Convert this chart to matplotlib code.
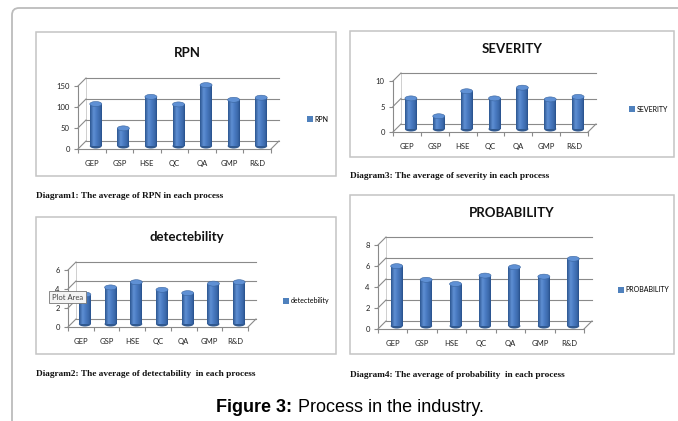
import matplotlib
matplotlib.use('Agg')
import matplotlib.pyplot as plt
from matplotlib.patches import Rectangle, Ellipse, FancyBboxPatch, Patch
from matplotlib.colors import LinearSegmentedColormap
from matplotlib.transforms import IdentityTransform
import numpy as np

W, H, DPI = 678, 421, 100

categories = ['GEP', 'GSP', 'HSE', 'QC', 'QA', 'GMP', 'R&D']
rpn = [100, 42, 117, 99, 145, 110, 115]
severity = [6.0, 2.5, 7.4, 6.0, 8.1, 5.8, 6.3]
detectability = [3.1, 3.85, 4.4, 3.6, 3.25, 4.25, 4.4]
probability = [5.7, 4.4, 4.0, 4.8, 5.6, 4.7, 6.4]

rpn_ticks = [0, 50, 100, 150]
severity_ticks = [0, 5, 10]
detect_ticks = [0, 2, 4, 6]
prob_ticks = [0, 2, 4, 6, 8]

GRID = '#8a8a8a'
BORDER = '#c4c4c4'
BLUE = '#4f81bd'

fig = plt.figure(figsize=(W / DPI, H / DPI), dpi=DPI)
fig.patch.set_facecolor('white')


def fx(x):
    return x / W


def fy(y):
    return 1 - y / H


cyl = LinearSegmentedColormap.from_list(
    'cyl', [(0, '#2c5690'), (0.3, '#5f8fd3'), (0.55, '#4a7bc2'), (0.85, '#3a67a8'), (1, '#27508a')])


def panel(box, title, title_xy, axbox, vals, ticks, series, legend_xy,
          caption, caption_xy, title_family='Lato'):
    x0, y0, x1, y1 = box
    fig.add_artist(Rectangle((fx(x0), fy(y1)), (x1 - x0) / W, (y1 - y0) / H,
                             transform=fig.transFigure, fill=False, ec=BORDER, lw=1.1))
    fig.text(fx(title_xy[0]), fy(title_xy[1]), title, ha='center', va='center',
             fontsize=9.5, fontweight='bold', family=title_family, color='#111111')
    ax0, ay0, ax1, ay1 = axbox
    axw, axh = ax1 - ax0, ay1 - ay0
    ax = fig.add_axes([fx(ax0), fy(ay1), axw / W, axh / H])
    ax.set_facecolor('none')
    n = len(vals)
    ymax = ticks[-1]
    ax.set_xlim(-0.5, n - 0.5)
    ax.set_ylim(0, ymax)
    pxx = n / axw          # data per px (x)
    pxy = ymax / axh       # data per px (y)
    ddx, ddy = 8 * pxx, 8 * pxy
    # back wall gridlines + left diagonals
    for g in ticks:
        ax.plot([-0.5 + ddx, n - 0.5 + ddx], [g + ddy, g + ddy], color=GRID,
                lw=0.8, clip_on=False, zorder=1)
        ax.plot([-0.5, -0.5 + ddx], [g, g + ddy], color=GRID, lw=0.8,
                clip_on=False, zorder=1)
    ax.plot([-0.5 + ddx, -0.5 + ddx], [ddy, ymax + ddy], color='#c8c8c8',
            lw=0.6, clip_on=False, zorder=0.9)
    ax.plot([n - 0.5, n - 0.5 + ddx], [0, ddy], color=GRID, lw=0.8,
            clip_on=False, zorder=1)
    # cylinders
    bx, by = 4 * pxx, 3 * pxy
    bw = 12 * pxx
    eh = 5 * pxy
    xs = np.arange(n) + bx
    bars = ax.bar(xs, vals, width=bw, bottom=by, color='#4576ba', zorder=3,
                  clip_on=False, lw=0)
    grad = np.linspace(0, 1, 64)[None, :]
    for b, xi, v in zip(bars, xs, vals):
        ax.add_patch(Ellipse((xi, by), bw, eh, fc='#31598f', ec='none',
                             zorder=2.9, clip_on=False))
        im = ax.imshow(grad, extent=[xi - bw / 2, xi + bw / 2, by, by + v],
                       aspect='auto', cmap=cyl, zorder=3.1, interpolation='bilinear')
        im.set_clip_path(b)
        ax.add_patch(Ellipse((xi, by + v), bw, eh, fc='#5f90d4', ec='#3a659f',
                             lw=0.4, zorder=4, clip_on=False))
    ax.set_xlim(-0.5, n - 0.5)
    ax.set_ylim(0, ymax)
    for s in ['top', 'right']:
        ax.spines[s].set_visible(False)
    for s in ['left', 'bottom']:
        ax.spines[s].set_color(GRID)
        ax.spines[s].set_linewidth(0.8)
    ax.set_yticks(ticks)
    ax.set_yticklabels([str(t) for t in ticks])
    ax.set_xticks(np.arange(n))
    ax.set_xticklabels(categories)
    ax.set_xticks(np.arange(n + 1) - 0.5, minor=True)
    ax.tick_params(axis='y', length=3, pad=3, labelsize=5.5, color=GRID,
                   labelcolor='#222222', width=0.8)
    ax.tick_params(axis='x', which='major', length=0, pad=8, labelsize=5.5,
                   labelcolor='#222222')
    ax.tick_params(axis='x', which='minor', length=3, color=GRID, width=0.8)
    for lab in ax.get_xticklabels() + ax.get_yticklabels():
        lab.set_family('Lato')
    lx, ly = legend_xy
    ax.legend(handles=[Patch(fc=BLUE, label=series)], loc='center left',
              bbox_to_anchor=(fx(lx), fy(ly)), bbox_transform=fig.transFigure,
              frameon=False, prop={'family': 'Lato', 'size': 5},
              handlelength=0.8, handleheight=0.8, handletextpad=0.3,
              borderpad=0, borderaxespad=0)
    fig.text(fx(caption_xy[0]), fy(caption_xy[1]), caption, ha='left', va='center',
             family='Liberation Serif', fontweight='bold', fontsize=6.7, color='#111111')
    return ax


# outer rounded border
fig.add_artist(FancyBboxPatch((12, -30), W + 40, H - 8 + 30,
                              boxstyle='round,pad=0,rounding_size=7',
                              transform=IdentityTransform(), fill=False,
                              ec='#bcbcbc', lw=1.3))

panel((36, 32, 336, 176), 'RPN', (187, 53), (78, 86, 271, 149), rpn, rpn_ticks,
      'RPN', (307, 119), 'Diagram1: The average of RPN in each process', (36, 196))
panel((350, 31, 674, 157), 'SEVERITY', (512, 49), (393, 81, 588, 132), severity,
      severity_ticks, 'SEVERITY', (629, 109),
      'Diagram3: The average of severity in each process', (350, 176))
panel((36, 217, 336, 354), 'detectebility', (187, 237), (68, 270, 248, 327),
      detectability, detect_ticks, 'detectebility', (283, 301),
      'Diagram2: The average of detectability  in each process', (36, 374))
panel((350, 195, 674, 354), 'PROBABILITY', (512, 213), (378, 245, 584, 329),
      probability, prob_ticks, 'PROBABILITY', (618, 290),
      'Diagram4: The average of probability  in each process', (350, 375))

# "Plot Area" tooltip
fig.text(fx(52), fy(297), 'Plot Area', ha='left', va='center', fontsize=5.5,
         family='Lato', color='#444444', zorder=10,
         bbox=dict(boxstyle='square,pad=0.35', fc='#f4f4f4', ec='#777777', lw=0.6))

# figure caption
renderer = fig.canvas.get_renderer()
t1 = fig.text(0, fy(407), 'Figure 3:', ha='left', va='center', fontsize=13,
              fontweight='bold', family='Liberation Sans')
t2 = fig.text(0, fy(407), ' Process in the industry.', ha='left', va='center',
              fontsize=13, family='Liberation Sans')
w1 = t1.get_window_extent(renderer).width
w2 = t2.get_window_extent(renderer).width
start = 350 - (w1 + w2) / 2
t1.set_x(fx(start))
t2.set_x(fx(start + w1))

fig.savefig('out.png', dpi=DPI)
